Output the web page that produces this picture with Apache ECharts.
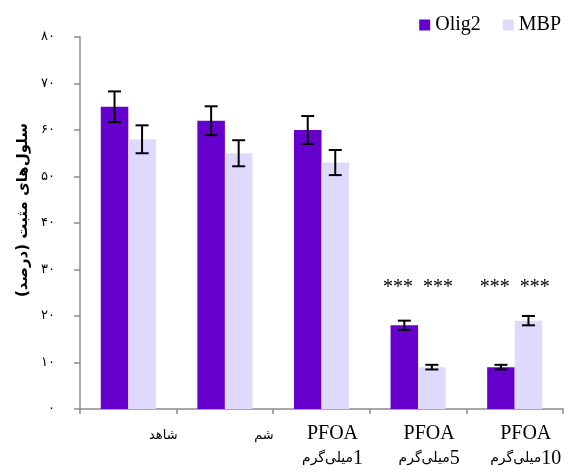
<!DOCTYPE html>
<html>
<head>
<meta charset="utf-8">
<script src="https://cdn.jsdelivr.net/npm/echarts@6/dist/echarts.min.js"></script>
<style>
  html, body { margin: 0; padding: 0; background: #fff; }
  #chart { width: 570px; height: 472px; }
</style>
</head>
<body>
<div id="chart"></div>
<script>
// data
const categories = ['شاهد', 'شم', 'PFOA\n1میلی‌گرم', 'PFOA\n5میلی‌گرم', 'PFOA\n10میلی‌گرم'];
const olig2 = [65, 62, 60, 18, 9];
const olig2Err = [3.3, 3.1, 3.0, 1.0, 0.5];
const mbp = [58, 55, 53, 9, 19];
const mbpErr = [3.0, 2.8, 2.7, 0.5, 1.0];
const olig2Sig = ['', '', '', '***', '***'];
const mbpSig = ['', '', '', '***', '***'];
const starLevel = 26;
const yName = 'سلول‌های مثبت (درصد)';

// style
const SERIF = '"Liberation Serif", "Times New Roman", serif';
const ARAB = '"DejaVu Sans", sans-serif';
const BAR_FRAC = 0.285;
const labelShift = [35, 39, 11, 11, 11];
const starSpread = 20;

const faDigits = '۰۱۲۳۴۵۶۷۸۹';
function toFa(v) {
    return String(v).replace(/\d/g, d => faDigits[+d]);
}

function labelFmt(val) {
    if (val.indexOf('\n') < 0) return '{fa|' + val + '}';
    const parts = val.split('\n');
    const m = parts[1].match(/^(\d+)(.*)$/);
    return '{lat|' + parts[0] + '}\n{fa2|' + m[2] + '}{lat|' + m[1] + '}';
}

function errRender(side, errs, sig) {
    return function (params, api) {
        const i = api.value(0);
        const v = api.value(1);
        const e = errs[params.dataIndex];
        const c = api.coord([i, v]);
        const catW = api.size([1, 0])[0];
        const bw = catW * BAR_FRAC;
        const x = c[0] + side * bw / 2;
        const hi = api.coord([i, v + e])[1];
        const lo = api.coord([i, v - e])[1];
        const cap = 6.5;
        const ls = { stroke: '#000', lineWidth: 2 };
        const children = [
            { type: 'line', shape: { x1: x, y1: hi, x2: x, y2: lo }, style: ls },
            { type: 'line', shape: { x1: x - cap, y1: hi, x2: x + cap, y2: hi }, style: ls },
            { type: 'line', shape: { x1: x - cap, y1: lo, x2: x + cap, y2: lo }, style: ls }
        ];
        const s = sig[params.dataIndex];
        if (s) {
            const catC = api.coord([i, 0])[0];
            children.push({
                type: 'text',
                style: {
                    text: s, x: catC + side * starSpread, y: api.coord([i, starLevel])[1],
                    align: 'center', verticalAlign: 'middle',
                    font: '20px ' + SERIF, fill: '#000'
                }
            });
        }
        return { type: 'group', children: children };
    };
}

const chart = echarts.init(document.getElementById('chart'));
const option = {
    animation: false,
    grid: { left: 80, right: 7, top: 37, bottom: 63 },
    legend: {
        data: ['Olig2', 'MBP'],
        right: 4, top: 10,
        icon: 'rect', itemWidth: 11, itemHeight: 11, itemGap: 22,
        textStyle: { fontFamily: SERIF, fontSize: 20, color: '#000' }
    },
    xAxis: {
        type: 'category',
        data: categories.map((c, i) => ({ value: c, textStyle: { padding: [0, 0, 0, labelShift[i] * 2] } })),
        axisLine: { lineStyle: { color: '#8c8c8c', width: 1.5 } },
        axisTick: { show: true, length: 5, lineStyle: { color: '#8c8c8c', width: 1.5 } },
        axisLabel: {
            interval: 0, margin: 12, color: '#000',
            formatter: labelFmt,
            rich: {
                lat: { fontFamily: SERIF, fontSize: 20, lineHeight: 25, color: '#000' },
                fa: { fontFamily: ARAB, fontSize: 13, lineHeight: 25, color: '#000', padding: [4, 0, 0, 0] },
                fa2: { fontFamily: ARAB, fontSize: 14, lineHeight: 25, color: '#000' }
            }
        }
    },
    yAxis: {
        type: 'value', min: 0, max: 80, interval: 10,
        name: yName, nameLocation: 'middle', nameGap: 47, nameRotate: 90,
        nameTextStyle: { fontFamily: ARAB, fontSize: 15, fontWeight: 'bold', color: '#000', padding: [0, 0, 0, 26] },
        axisLine: { show: true, lineStyle: { color: '#8c8c8c', width: 1.5 } },
        axisTick: { show: true, length: 6, lineStyle: { color: '#8c8c8c', width: 1.5 } },
        splitLine: { show: false },
        axisLabel: { margin: 25, fontFamily: ARAB, fontSize: 13, color: '#000', formatter: v => toFa(v) }
    },
    series: [
        { name: 'Olig2', type: 'bar', data: olig2, barWidth: (BAR_FRAC * 100) + '%', barGap: '0%',
          itemStyle: { color: '#6600CC' } },
        { name: 'MBP', type: 'bar', data: mbp, barWidth: (BAR_FRAC * 100) + '%', barGap: '0%',
          itemStyle: { color: '#E0D9FE' } },
        { name: 'olig2-err', type: 'custom', renderItem: errRender(-1, olig2Err, olig2Sig),
          data: olig2.map((v, i) => [i, v]), z: 5 },
        { name: 'mbp-err', type: 'custom', renderItem: errRender(1, mbpErr, mbpSig),
          data: mbp.map((v, i) => [i, v]), z: 5 }
    ]
};
chart.setOption(option);
</script>
</body>
</html>
